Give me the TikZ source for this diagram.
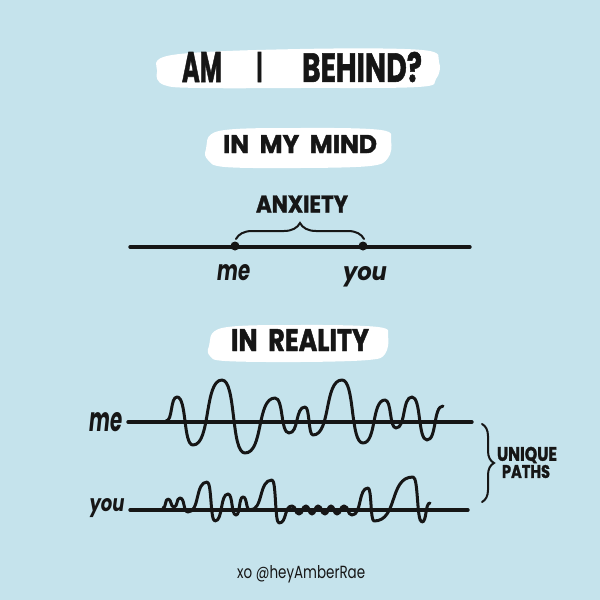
\documentclass[tikz,border=0pt]{standalone}
\usepackage{graphicx}
\usepackage{fontspec}
\setmainfont{Poppins}[BoldFeatures={FakeBold=1.5}]
\usetikzlibrary{decorations.pathreplacing}
\definecolor{bg}{HTML}{C5E3EC}
\definecolor{ink}{HTML}{161616}
\newcommand{\fitbox}[3]{\resizebox{#1pt}{#2pt}{#3}}
\tikzset{
  lbl/.style={inner sep=0pt, text=ink, font=\bfseries},
  scr/.style={inner sep=0pt, text=ink, font=\bfseries\itshape},
  foot/.style={inner sep=0pt, text=ink, font=\normalfont},
  brush/.style={fill=white, draw=none},
  wave/.style={draw=ink, line width=3pt, line cap=round, line join=round},
  axisline/.style={draw=ink, line width=3.4pt, line cap=round},
  dotnode/.style={circle, fill=ink, inner sep=0pt, minimum size=9pt},
  bracepath/.style={draw=ink, line width=2pt, line cap=round, decorate, decoration={brace, amplitude=#1}}
}
\begin{document}
\begin{tikzpicture}[x=1pt, y=-1pt]
\useasboundingbox (0,0) rectangle (600,600);
\fill[bg] (0,0) rectangle (600,600);

% brush strokes
\fill[brush] plot[smooth cycle, tension=0.6] coordinates {(157,72) (172,55) (300,49) (422,50) (439,62) (436,79) (418,87) (300,88) (200,88) (164,85)};
\fill[brush] plot[smooth cycle, tension=0.6] coordinates {(206,149) (219,131) (300,128) (381,130) (391,141) (388,158) (370,166) (300,168) (225,167) (208,160)};
\fill[brush] plot[smooth cycle, tension=0.6] coordinates {(209,346) (222,328) (300,325) (378,327) (388,336) (385,354) (368,360) (300,362) (225,361) (210,356)};

% title
\node[lbl] (t1) at (202,67) {\fitbox{40}{30}{AM}};
\node[lbl] (t2) at (259.5,67) {\fitbox{6}{30}{I}};
\node[lbl] (t3) at (362,67) {\fitbox{120}{30}{BEHIND?}};

% in my mind
\node[lbl] (mind) at (300,144) {\fitbox{154}{18}{IN\ \ MY\ \ MIND}};

% top axis
\coordinate (a1) at (130,247);
\coordinate (a2) at (470,247);
\draw[axisline] (a1) -- (a2);
\node[dotnode] (dme) at (235,246) {};
\node[dotnode] (dyou) at (363,246) {};
\coordinate (b1) at (236,239);
\coordinate (b2) at (364,239);
\draw[bracepath=16pt] (b1) -- (b2);
\node[lbl] (anx) at (302,204) {\fitbox{92}{17}{ANXIETY}};
\node[scr, anchor=base] (me1) at (234,280) {\fitbox{33}{16}{me}};
\node[scr, anchor=base] (you1) at (365,280) {\fitbox{44}{14}{you}};

% in reality
\node[lbl] (real) at (300,340) {\fitbox{138}{22}{IN\ \ REALITY}};

% reality lines
\coordinate (m1) at (128,422);
\coordinate (m2) at (472,422);
\draw[axisline] (m1) -- (m2);
\coordinate (y1) at (130,510);
\coordinate (y2) at (468,510);
\draw[axisline] (y1) -- (y2);

\draw[wave] (166,421) \foreach \x/\y [remember=\x as \px (initially 166), remember=\y as \py (initially 421)] in {
177/397, 193/445, 222/380, 245/453, 275/398, 289/433, 305/407, 313/435, 342/380,
363/443, 385/400, 396/428, 412/397, 427/440, 443/406}
{ .. controls ({\px+0.62*(\x-\px)},\py) and ({\x-0.62*(\x-\px)},\y) .. (\x,\y) };

\draw[wave] (163,508) \foreach \x/\y [remember=\x as \px (initially 163), remember=\y as \py (initially 508)] in {
168/499, 174/507, 180/498, 188/512, 207/482, 215/521, 228/494, 236/515, 243/497,
250/510, 272/480, 279/523, 292/506, 299/514, 306/506, 312/514, 318/506, 325/514,
331/506, 337/514, 344/506, 352/515, 368/488, 374/521, 413/477, 422/522, 430/503}
{ .. controls ({\px+0.62*(\x-\px)},\py) and ({\x-0.62*(\x-\px)},\y) .. (\x,\y) };

\node[scr, anchor=base] (me2) at (106,431) {\fitbox{33}{19}{me}};
\node[scr, anchor=base] (you2) at (107,511) {\fitbox{35}{13}{you}};

% unique paths brace
\coordinate (u1) at (482,424);
\coordinate (u2) at (482,502);
\draw[bracepath=12pt] (u1) -- (u2);
\node[lbl] (uq) at (527,455) {\fitbox{60}{14}{UNIQUE}};
\node[lbl] (pt) at (526,471.5) {\fitbox{48}{13}{PATHS}};

% footer
\node[foot, anchor=base west] (ft) at (237,578) {\fitbox{128}{13}{xo @heyAmberRae}};
\end{tikzpicture}
\end{document}
